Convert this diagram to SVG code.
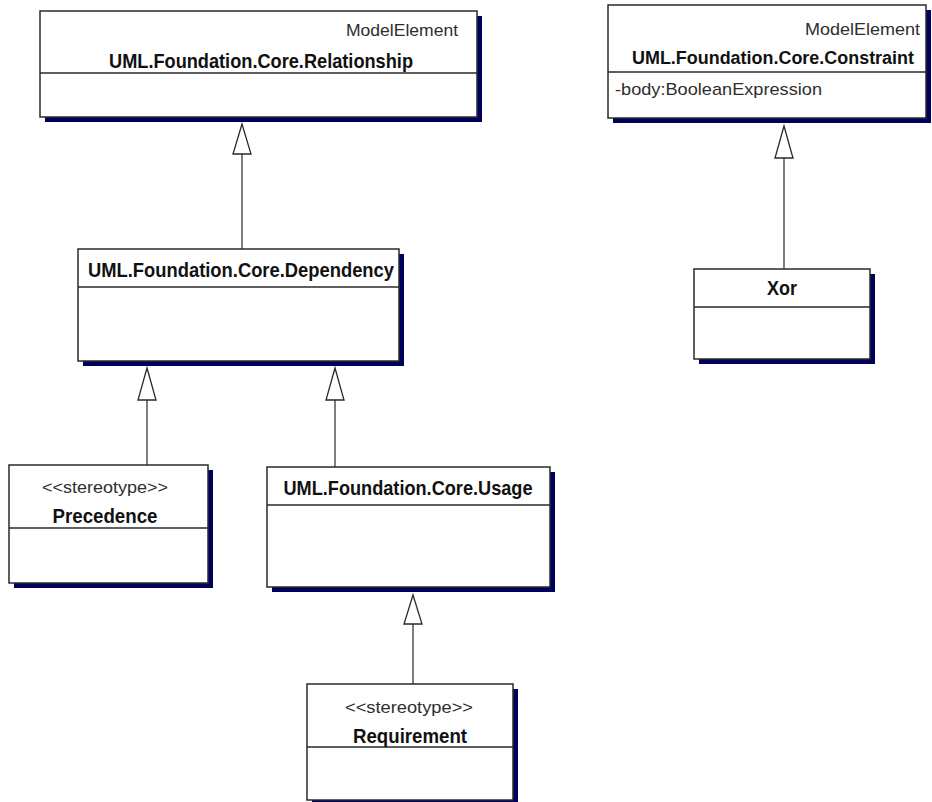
<svg xmlns="http://www.w3.org/2000/svg" width="932" height="802" viewBox="0 0 932 802">
  <style>
    .shadow { fill: #00005e; }
    .box { fill: #ffffff; stroke: #2a2a2a; stroke-width: 1.5; }
    .div { stroke: #2a2a2a; stroke-width: 1.3; }
    .title { font-family: "Liberation Sans", Arial, sans-serif; font-weight: bold; font-size: 21px; fill: #111111; }
    .title.narrow { font-size: 18px; }
    .meta { font-family: "Liberation Sans", Arial, sans-serif; font-size: 17px; fill: #2e2e2e; }
    .edge { stroke: #3a3a3a; stroke-width: 1.3; fill: none; }
    .head { fill: #ffffff; stroke: #2a2a2a; stroke-width: 1.3; stroke-linejoin: miter; }
  </style>
  <rect width="932" height="802" fill="#ffffff"/>

  <!-- generalization connectors: line from child up to a hollow triangle at the parent -->
  <g id="connectors">
    <line class="edge" x1="242" y1="154" x2="242" y2="249"/>
    <polygon class="head" points="242,124 233,154 251,154"/>

    <line class="edge" x1="147" y1="400" x2="147" y2="465"/>
    <polygon class="head" points="147,368 138,400 156,400"/>

    <line class="edge" x1="335" y1="400" x2="335" y2="467"/>
    <polygon class="head" points="335,368 326,400 344,400"/>

    <line class="edge" x1="413" y1="624" x2="413" y2="684"/>
    <polygon class="head" points="413,595 404,624 422,624"/>

    <line class="edge" x1="784" y1="158" x2="784" y2="269"/>
    <polygon class="head" points="784,126 775,158 793,158"/>
  </g>

  <g id="relationship">
    <rect class="shadow" x="45" y="16" width="437" height="106"/>
    <rect class="box" x="40" y="11" width="437" height="106"/>
    <line class="div" x1="40" y1="73" x2="477" y2="73"/>
    <text class="meta" x="458" y="36" text-anchor="end" textLength="112" lengthAdjust="spacingAndGlyphs">ModelElement</text>
    <text class="title" x="261" y="68" text-anchor="middle" textLength="304" lengthAdjust="spacingAndGlyphs">UML.Foundation.Core.Relationship</text>
  </g>

  <g id="constraint">
    <rect class="shadow" x="613" y="10" width="318" height="113"/>
    <rect class="box" x="608" y="5" width="318" height="113"/>
    <line class="div" x1="608" y1="72" x2="926" y2="72"/>
    <text class="meta" x="920" y="35" text-anchor="end" textLength="115" lengthAdjust="spacingAndGlyphs">ModelElement</text>
    <text class="title narrow" x="773" y="64" text-anchor="middle" textLength="282" lengthAdjust="spacingAndGlyphs">UML.Foundation.Core.Constraint</text>
    <text class="meta" x="615" y="95" textLength="207" lengthAdjust="spacingAndGlyphs">-body:BooleanExpression</text>
  </g>

  <g id="dependency">
    <rect class="shadow" x="83" y="254" width="321" height="112"/>
    <rect class="box" x="78" y="249" width="321" height="112"/>
    <line class="div" x1="78" y1="287" x2="399" y2="287"/>
    <text class="title" x="241" y="277" text-anchor="middle" textLength="306" lengthAdjust="spacingAndGlyphs">UML.Foundation.Core.Dependency</text>
  </g>

  <g id="xor">
    <rect class="shadow" x="699" y="274" width="176" height="90"/>
    <rect class="box" x="694" y="269" width="176" height="90"/>
    <line class="div" x1="694" y1="307" x2="870" y2="307"/>
    <text class="title" x="782" y="295" text-anchor="middle" textLength="30" lengthAdjust="spacingAndGlyphs">Xor</text>
  </g>

  <g id="precedence">
    <rect class="shadow" x="14" y="470" width="199" height="118"/>
    <rect class="box" x="9" y="465" width="199" height="118"/>
    <line class="div" x1="9" y1="528" x2="208" y2="528"/>
    <text class="meta" x="105" y="493" text-anchor="middle" textLength="126" lengthAdjust="spacingAndGlyphs">&lt;&lt;stereotype&gt;&gt;</text>
    <text class="title" x="105" y="523" text-anchor="middle" textLength="105" lengthAdjust="spacingAndGlyphs">Precedence</text>
  </g>

  <g id="usage">
    <rect class="shadow" x="272" y="472" width="283" height="120"/>
    <rect class="box" x="267" y="467" width="283" height="120"/>
    <line class="div" x1="267" y1="505" x2="550" y2="505"/>
    <text class="title" x="408" y="495" text-anchor="middle" textLength="249" lengthAdjust="spacingAndGlyphs">UML.Foundation.Core.Usage</text>
  </g>

  <g id="requirement">
    <rect class="shadow" x="312" y="689" width="206" height="116"/>
    <rect class="box" x="307" y="684" width="206" height="116"/>
    <line class="div" x1="307" y1="747" x2="513" y2="747"/>
    <text class="meta" x="409" y="713" text-anchor="middle" textLength="128" lengthAdjust="spacingAndGlyphs">&lt;&lt;stereotype&gt;&gt;</text>
    <text class="title" x="410" y="743" text-anchor="middle" textLength="114" lengthAdjust="spacingAndGlyphs">Requirement</text>
  </g>
</svg>
